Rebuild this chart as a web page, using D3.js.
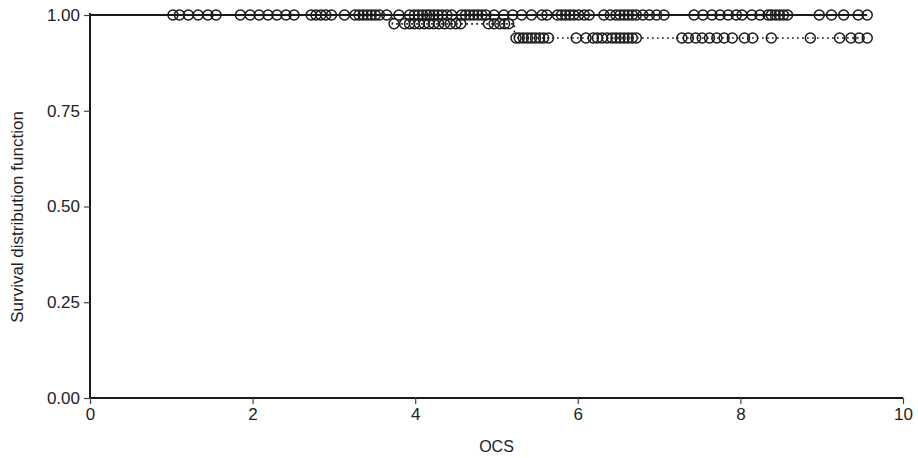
<!DOCTYPE html>
<html>
<head>
<meta charset="utf-8">
<script src="https://cdn.jsdelivr.net/npm/d3@7"></script>
<style>
  html, body { margin: 0; padding: 0; background: #fff; }
  svg { display: block; font-family: "Liberation Sans", Arial, Helvetica, sans-serif; }
</style>
</head>
<body>
<svg id="chart" width="918" height="458"></svg>
<script>
// Kaplan-Meier step functions for two groups, with censoring marks.
const xTicks = [0, 2, 4, 6, 8, 10];
const yTicks = [0, 0.25, 0.5, 0.75, 1.0];

// Group 1 (solid): no events, survival stays at 1.
const solidSteps = [
  { t: 0, s: 1.0 },
  { t: 9.56, s: 1.0 }
];
const solidCensored = [
  1.02, 1.10, 1.21, 1.33, 1.45, 1.55,
  1.85, 1.97, 2.08, 2.19, 2.30, 2.41, 2.51,
  2.72, 2.78, 2.84, 2.90, 2.97, 3.13,
  3.26, 3.31, 3.36, 3.41, 3.46, 3.51, 3.56,
  3.65, 3.80, 3.93,
  3.99, 4.04, 4.09, 4.14, 4.18, 4.23, 4.28, 4.33,
  4.39, 4.45,
  4.57, 4.62, 4.67, 4.72, 4.77, 4.82, 4.87,
  4.97, 5.09, 5.20, 5.31, 5.43, 5.56, 5.62,
  5.75, 5.80, 5.85, 5.90, 5.95, 6.01, 6.08, 6.14,
  6.32,
  6.40, 6.47, 6.52, 6.57, 6.62, 6.67, 6.72, 6.80, 6.88, 6.97, 7.06,
  7.43, 7.54, 7.65, 7.75,
  7.85, 7.95, 8.02, 8.14, 8.24, 8.34, 8.38, 8.43, 8.48, 8.53, 8.58,
  8.97, 9.12, 9.27, 9.45, 9.56
];

// Group 2 (dotted): two events.
const dottedSteps = [
  { t: 0, s: 1.0 },
  { t: 3.72, s: 0.977 },
  { t: 5.22, s: 0.940 },
  { t: 9.56, s: 0.940 }
];
const dottedCensored = [
  3.74, 3.87, 3.93, 3.99, 4.05, 4.11, 4.17, 4.23, 4.29, 4.36, 4.43, 4.50, 4.56,
  4.90, 4.97, 5.04, 5.10, 5.15,
  5.24, 5.28, 5.33, 5.38, 5.43, 5.48, 5.53, 5.58, 5.64,
  5.98, 6.10,
  6.19, 6.24, 6.30, 6.36, 6.42, 6.47, 6.52, 6.57, 6.62, 6.67, 6.72,
  7.28, 7.36, 7.45, 7.53, 7.62, 7.71, 7.80, 7.90,
  8.05, 8.15, 8.38, 8.86,
  9.22, 9.36, 9.46, 9.56
];

const svg = d3.select("#chart");
const mLeft = 90, mRight = 903, mTop = 15, mBottom = 398;

const x = d3.scaleLinear().domain([0, 10]).range([mLeft, mRight]);
const y = d3.scaleLinear().domain([0, 1]).range([mBottom, mTop]);

const ink = "#1a1a1a";

// Axes
const xAxis = svg.append("g")
  .attr("transform", `translate(0,${mBottom})`)
  .call(d3.axisBottom(x).tickValues(xTicks).tickFormat(d3.format("d")).tickSize(6).tickPadding(4));
const yAxis = svg.append("g")
  .attr("transform", `translate(${mLeft},0)`)
  .call(d3.axisLeft(y).tickValues(yTicks).tickFormat(d3.format(".2f")).tickSize(6).tickPadding(4));

[xAxis, yAxis].forEach(g => {
  g.select(".domain").attr("stroke", ink).attr("stroke-width", 2);
  g.selectAll(".tick line").attr("stroke", "#444").attr("stroke-width", 1.2);
  g.selectAll(".tick text").attr("fill", "#222").style("font-size", "17px")
    .style("font-family", "'Liberation Sans', Arial, sans-serif");
});
// Plain axis lines without outer ticks
xAxis.select(".domain").attr("d", `M${mLeft},0H${mRight}`);
yAxis.select(".domain").attr("d", `M0,${mTop - 2}V${mBottom}`);

// Step lines
const stepLine = d3.line().x(d => x(d.t)).y(d => y(d.s)).curve(d3.curveStepAfter);

svg.append("path").datum(dottedSteps)
  .attr("d", stepLine)
  .attr("fill", "none").attr("stroke", ink)
  .attr("stroke-width", 1.7).attr("stroke-dasharray", "1.7,3.3");

svg.append("path").datum(solidSteps)
  .attr("d", stepLine)
  .attr("fill", "none").attr("stroke", ink).attr("stroke-width", 2.2);

// Level of a step function at time t
function levelAt(steps, t) {
  let s = steps[0].s;
  for (const p of steps) { if (p.t <= t) s = p.s; }
  return s;
}

// Censoring marks
const r = 5;
svg.append("g").selectAll("circle").data(solidCensored).join("circle")
  .attr("cx", d => x(d)).attr("cy", d => y(levelAt(solidSteps, d)))
  .attr("r", r).attr("fill", "none").attr("stroke", ink).attr("stroke-width", 1.5);

svg.append("g").selectAll("circle").data(dottedCensored).join("circle")
  .attr("cx", d => x(d)).attr("cy", d => y(levelAt(dottedSteps, d)))
  .attr("r", r).attr("fill", "none").attr("stroke", ink).attr("stroke-width", 1.5);

// Axis titles
svg.append("text")
  .attr("x", (mLeft + mRight) / 2).attr("y", 452)
  .attr("text-anchor", "middle").attr("fill", "#222")
  .style("font-size", "16px")
  .text("OCS");

svg.append("text")
  .attr("transform", `translate(23,217) rotate(-90)`)
  .attr("text-anchor", "middle").attr("fill", "#222")
  .style("font-size", "17px")
  .text("Survival distribution function");
</script>
</body>
</html>
